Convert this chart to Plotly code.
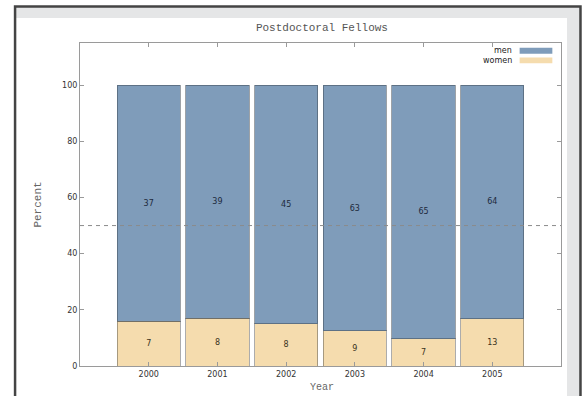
import plotly.graph_objects as go

# Postdoctoral fellows by year, head counts
years = ["2000", "2001", "2002", "2003", "2004", "2005"]
men = [37, 39, 45, 63, 65, 64]
women = [7, 8, 8, 9, 7, 13]
y_ticks = [0, 20, 40, 60, 80, 100]

totals = [m + w for m, w in zip(men, women)]
women_pct = [100.0 * w / t for w, t in zip(women, totals)]
men_pct = [100.0 * m / t for m, t in zip(men, totals)]

MEN_COLOR = "#7f9cba"
WOMEN_COLOR = "#f5dcae"
AXIS_COLOR = "#9a9a9a"
CARD_COLOR = "#e5e6e7"
mono = "Liberation Mono, Courier New, monospace"
sans = "DejaVu Sans, Arial, sans-serif"

fig = go.Figure()
fig.add_trace(go.Bar(
    x=years, y=women_pct, name="women", text=[str(v) for v in women],
    marker=dict(color=WOMEN_COLOR, line=dict(color="rgba(70,70,70,0.45)", width=1)),
    textposition="inside", insidetextanchor="middle", textangle=0,
    textfont=dict(family=sans, size=8, color="#3a3320"),
    hoverinfo="skip",
))
fig.add_trace(go.Bar(
    x=years, y=men_pct, name="men", text=[str(v) for v in men],
    marker=dict(color=MEN_COLOR, line=dict(color="rgba(60,70,80,0.5)", width=1)),
    textposition="inside", insidetextanchor="middle", textangle=0,
    textfont=dict(family=sans, size=8, color="#1d2a3c"),
    hoverinfo="skip",
))

# 50% reference line
fig.add_hline(y=50, line=dict(color="#8a8a8a", width=1, dash="4px,4px"), layer="above")


def band(x0, x1, y0, y1):
    return dict(type="rect", xref="paper", yref="paper", x0=x0, x1=x1, y0=y0, y1=y1,
                fillcolor=CARD_COLOR, line=dict(width=0), layer="above")


shapes = [
    # grey card border strips around the white panel
    band(-0.1351, -0.1185, -0.3, 1.113),
    band(1.0125, 1.0405, -0.3, 1.113),
    band(-0.1351, 1.0405, 1.0774, 1.113),
    # dark frame around the card
    dict(type="rect", xref="paper", yref="paper", x0=-0.135, x1=1.0405, y0=-0.3, y1=1.1130,
         fillcolor="rgba(0,0,0,0)", line=dict(color="#444444", width=2.5), layer="above"),
    # legend swatches
    dict(type="rect", xref="paper", yref="paper", x0=0.914, x1=0.982, y0=0.985, y1=0.967,
         fillcolor=MEN_COLOR, line=dict(width=0)),
    dict(type="rect", xref="paper", yref="paper", x0=0.914, x1=0.982, y0=0.955, y1=0.937,
         fillcolor=WOMEN_COLOR, line=dict(width=0)),
]

annotations = [
    dict(text="men", xref="paper", yref="paper", x=0.902, y=0.976, xanchor="right",
         yanchor="middle", showarrow=False, font=dict(family=sans, size=8, color="#222")),
    dict(text="women", xref="paper", yref="paper", x=0.902, y=0.946, xanchor="right",
         yanchor="middle", showarrow=False, font=dict(family=sans, size=8, color="#222")),
    dict(text="Year", xref="paper", yref="paper", x=0.504, y=-0.091, xanchor="center",
         yanchor="bottom", showarrow=False, font=dict(family=mono, size=10, color="#666")),
]

fig.update_layout(
    width=587, height=396,
    margin=dict(l=80, r=26, t=43, b=30),
    paper_bgcolor="#ffffff",
    plot_bgcolor="#ffffff",
    barmode="stack",
    bargap=0.08,
    showlegend=False,
    title=dict(text="Postdoctoral Fellows", xref="paper", x=0.503, xanchor="center",
               y=0.932, yanchor="middle",
               font=dict(family=mono, size=11, color="#555")),
    shapes=shapes,
    annotations=annotations,
    xaxis=dict(
        range=[-1, 6], showline=True, linecolor=AXIS_COLOR, linewidth=1, mirror="allticks",
        ticks="inside", ticklen=4, tickcolor=AXIS_COLOR, showgrid=False,
        tickfont=dict(family=sans, size=8, color="#333"), fixedrange=True,
    ),
    yaxis=dict(
        range=[0, 115], tickvals=y_ticks, showline=True, linecolor=AXIS_COLOR, linewidth=1,
        mirror="allticks", ticks="inside", ticklen=4, tickcolor=AXIS_COLOR, showgrid=False,
        zeroline=False, tickfont=dict(family=sans, size=8, color="#333"),
        title=dict(text="Percent", font=dict(family=mono, size=11, color="#666"), standoff=18),
        fixedrange=True,
    ),
)

fig.write_html("out.html")
